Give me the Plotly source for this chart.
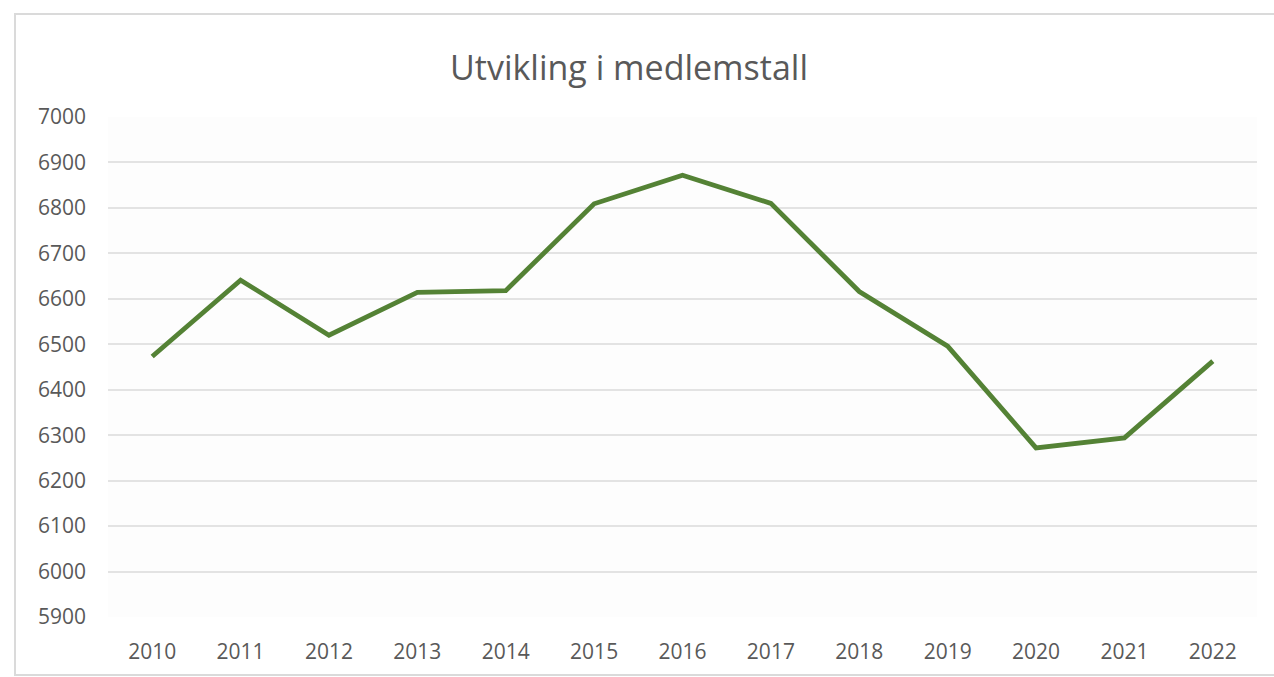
import plotly.graph_objects as go

years = ["2010", "2011", "2012", "2013", "2014", "2015", "2016",
         "2017", "2018", "2019", "2020", "2021", "2022"]
members = [6473, 6641, 6520, 6614, 6618, 6809, 6872,
           6810, 6616, 6496, 6272, 6294, 6463]
y_ticks = list(range(5900, 7001, 100))

W, H = 1274, 677
L, R, T, B = 108, 17, 117, 60
pw, ph = W - L - R, H - T - B

def px(x):
    return (x - L) / pw

def py(y):
    return (H - B - y) / ph

fig = go.Figure()
fig.add_trace(go.Scatter(
    x=years, y=members, mode="lines",
    line=dict(color="#548235", width=4.8),
    hoverinfo="x+y", showlegend=False,
))

font = "Open Sans, Noto Sans, sans-serif"
fig.update_layout(
    width=W, height=H,
    margin=dict(l=L, r=R, t=T, b=B),
    paper_bgcolor="#ffffff",
    plot_bgcolor="#fdfdfd",
    title=dict(text="Utvikling i medlemstall", x=629 / W, xanchor="center",
               y=1 - 68 / H, yanchor="middle",
               font=dict(family=font, size=34, color="#595959")),
    xaxis=dict(type="category", range=[-0.5, 12.5], showgrid=False,
               showline=False, ticks="", ticklabelstandoff=20,
               tickfont=dict(family=font, size=21, color="#595959")),
    yaxis=dict(range=[5900, 7000], tickvals=y_ticks, showgrid=True,
               gridcolor="#e3e3e3", gridwidth=1.5, zeroline=False,
               showline=False, ticks="", ticklabelstandoff=21,
               tickfont=dict(family=font, size=21, color="#595959")),
    shapes=[dict(type="rect", xref="paper", yref="paper",
                 x0=px(15), x1=px(1290), y0=py(675), y1=py(14),
                 line=dict(color="#dadada", width=2), fillcolor="rgba(0,0,0,0)",
                 layer="below")],
)

fig.write_html("out.html", config={"displayModeBar": False},
               post_script="document.body.style.margin='0';document.body.style.overflow='hidden';")
